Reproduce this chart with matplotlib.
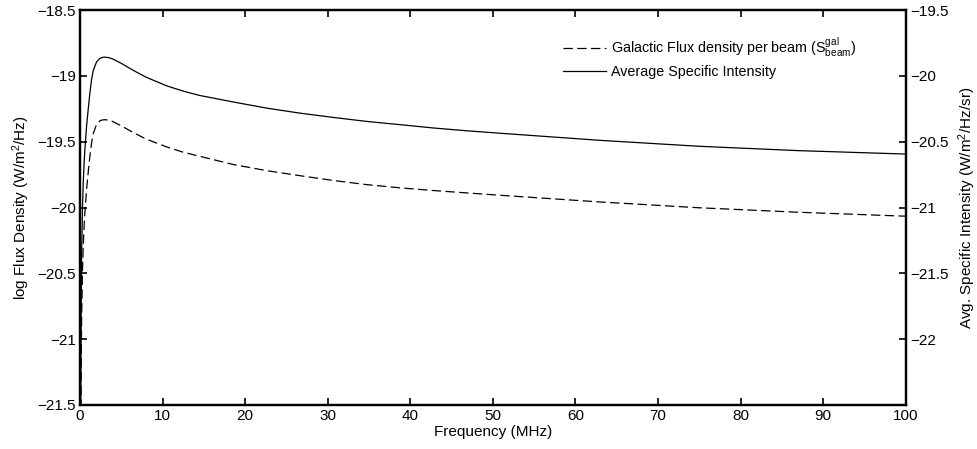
import matplotlib
matplotlib.use("Agg")
import matplotlib.pyplot as plt

plt.rcParams['font.family'] = ['Liberation Sans', 'DejaVu Sans']
plt.rcParams['mathtext.fontset'] = 'custom'
plt.rcParams['mathtext.rm'] = 'Liberation Sans'
plt.rcParams['mathtext.it'] = 'Liberation Sans'

# Frequency (MHz)
freq = [0.05, 0.1, 0.15, 0.2, 0.3, 0.4, 0.5, 0.6, 0.8, 1.0, 1.2, 1.4, 1.6, 2.0,
        2.4, 2.7, 3.0, 3.5, 4.0, 5.0, 6.5, 8.0, 10.5, 12.5, 14.5, 18.6, 22.6,
        26.6, 30.7, 34.7, 38.8, 42.8, 46.8, 50.9, 63.0, 75.0, 87.0, 100.0]

# Galactic flux density per beam, log (W/m^2/Hz) - left axis
flux_beam = [-23.0, -21.78, -21.18, -20.83, -20.48, -20.28, -20.14, -20.03,
             -19.86, -19.73, -19.61, -19.51, -19.44, -19.37, -19.342, -19.335,
             -19.333, -19.337, -19.348, -19.38, -19.432, -19.48, -19.54,
             -19.58, -19.611, -19.674, -19.72, -19.758, -19.795, -19.826,
             -19.851, -19.871, -19.889, -19.907, -19.958, -20.002, -20.036,
             -20.066]

# Average specific intensity, log (W/m^2/Hz/sr) - right axis
avg_intensity = [-23.5, -22.3, -21.7, -21.35, -21.0, -20.8, -20.66, -20.55,
                 -20.38, -20.25, -20.13, -20.03, -19.96, -19.895, -19.868,
                 -19.86, -19.858, -19.862, -19.873, -19.905, -19.96, -20.01,
                 -20.076, -20.116, -20.149, -20.199, -20.245, -20.283, -20.316,
                 -20.346, -20.371, -20.396, -20.417, -20.436, -20.490, -20.535,
                 -20.568, -20.594]

xticks = [0, 10, 20, 30, 40, 50, 60, 70, 80, 90, 100]
left_ticks = [-21.5, -21, -20.5, -20, -19.5, -19, -18.5]
right_ticks = [-22, -21.5, -21, -20.5, -20, -19.5]

fig = plt.figure(figsize=(9.78, 4.49), dpi=100)
ax = fig.add_axes([0.0818, 0.098, 0.8442, 0.8797])
ax2 = ax.twinx()

l1, = ax.plot(freq, flux_beam, color='black', lw=0.9, linestyle=(0, (7.5, 3.5)),
              label='Galactic Flux density per beam ($\\mathrm{S^{gal}_{beam}}$)')
l2, = ax2.plot(freq, avg_intensity, color='black', lw=0.9,
               label='Average Specific Intensity')

ax.set_xlim(0, 100)
ax.set_ylim(-21.5, -18.5)
ax2.set_ylim(-22.5, -19.5)
ax.set_xticks(xticks)
ax.set_xticklabels([str(t) for t in xticks])
ax.set_yticks(left_ticks)
ax.set_yticklabels(['\u221221.5', '\u221221', '\u221220.5', '\u221220', '\u221219.5', '\u221219', '\u221218.5'])
ax2.set_yticks(right_ticks)
ax2.set_yticklabels(['\u221222', '\u221221.5', '\u221221', '\u221220.5', '\u221220', '\u221219.5'])

for a in (ax, ax2):
    for s in a.spines.values():
        s.set_linewidth(1.6)
ax.tick_params(axis='x', direction='in', top=True, length=5, width=1.2, labelsize=11, pad=3)
ax.tick_params(axis='y', direction='in', right=False, length=5, width=1.2, labelsize=11, pad=3)
ax2.tick_params(axis='y', direction='in', length=5, width=1.2, labelsize=11, pad=3)

ax.set_xlabel('Frequency (MHz)', fontsize=11, labelpad=1)
ax.set_ylabel('log Flux Density (W/m$^2$/Hz)', fontsize=11, labelpad=4)
ax2.set_ylabel('Avg. Specific Intensity (W/m$^2$/Hz/sr)', fontsize=11, labelpad=6)

leg = ax.legend(handles=[l1, l2], loc='upper right', bbox_to_anchor=(0.95, 0.958),
                frameon=False, fontsize=10.3, handlelength=3.0, handletextpad=0.3,
                labelspacing=0.42, borderaxespad=0.2)

fig.savefig('out.png', dpi=100)
